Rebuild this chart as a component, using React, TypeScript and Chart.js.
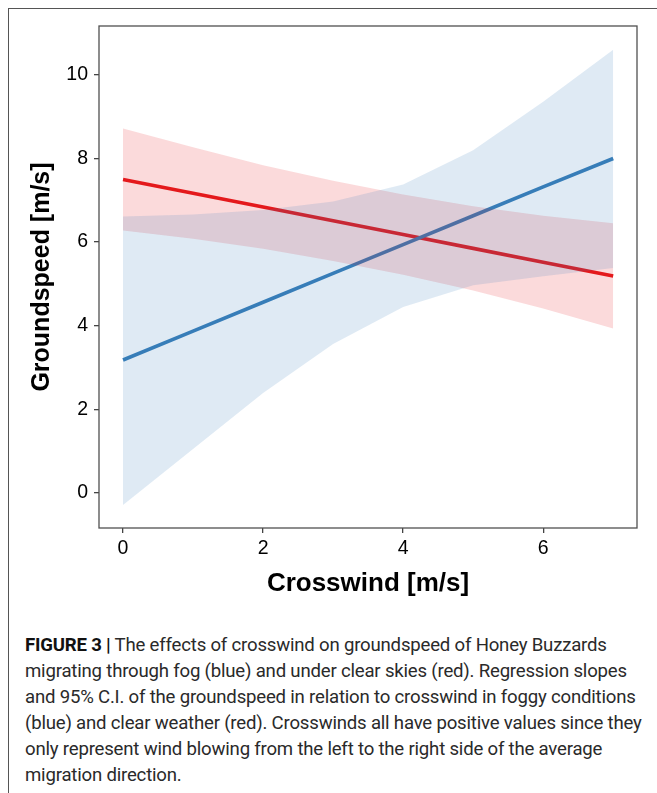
import React, { useEffect, useRef } from "react";
import { Chart, registerables } from "chart.js";

Chart.register(...registerables);

// Crosswind [m/s]
const xValues = [0, 1, 2, 3, 4, 5, 6, 7];
// Fog (blue): regression fit and 95% C.I.
const fogFit = [3.18, 3.87, 4.56, 5.25, 5.94, 6.63, 7.32, 8.0];
const fogUpper = [6.61, 6.66, 6.77, 6.97, 7.38, 8.2, 9.36, 10.6];
const fogLower = [-0.29, 1.05, 2.39, 3.56, 4.45, 4.97, 5.18, 5.38];
// Clear skies (red): regression fit and 95% C.I.
const clearFit = [7.5, 7.17, 6.84, 6.51, 6.18, 5.85, 5.52, 5.19];
const clearUpper = [8.72, 8.27, 7.84, 7.47, 7.14, 6.86, 6.63, 6.45];
const clearLower = [6.28, 6.08, 5.84, 5.55, 5.22, 4.84, 4.41, 3.93];

const xTicks = [0, 2, 4, 6];
const yTicks = [0, 2, 4, 6, 8, 10];

const xTitle = "Crosswind [m/s]";
const yTitle = "Groundspeed [m/s]";

const captionBold = "FIGURE 3 |";
const captionLines = [
  " The effects of crosswind on groundspeed of Honey Buzzards",
  "migrating through fog (blue) and under clear skies (red). Regression slopes",
  "and 95% C.I. of the groundspeed in relation to crosswind in foggy conditions",
  "(blue) and clear weather (red). Crosswinds all have positive values since they",
  "only represent wind blowing from the left to the right side of the average",
  "migration direction.",
];

const pts = (ys: number[]) => xValues.map((x, i) => ({ x, y: ys[i] }));

const FONT = "'Liberation Sans', Arial, Helvetica, sans-serif";

const panelBorder = {
  id: "panelBorder",
  afterDatasetsDraw(chart: any) {
    const { ctx, chartArea } = chart;
    ctx.save();
    ctx.strokeStyle = "#505050";
    ctx.lineWidth = 1.3;
    ctx.strokeRect(chartArea.left, chartArea.top, chartArea.right - chartArea.left, chartArea.bottom - chartArea.top);
    ctx.restore();
  },
};

export default function App() {
  const ref = useRef<HTMLCanvasElement | null>(null);

  useEffect(() => {
    if (!ref.current) return;
    const band = { pointRadius: 0, borderWidth: 0, tension: 0 };
    const chart = new Chart(ref.current, {
      type: "line",
      data: {
        datasets: [
          { ...band, data: pts(clearLower), fill: false, order: 1 },
          { ...band, data: pts(clearUpper), fill: "-1", backgroundColor: "rgba(228,26,28,0.16)", order: 1 },
          { ...band, data: pts(fogLower), fill: false, order: 0 },
          { ...band, data: pts(fogUpper), fill: "-1", backgroundColor: "rgba(55,126,184,0.16)", order: 0 },
          { data: pts(clearFit), borderColor: "#E41A1C", borderWidth: 3.6, pointRadius: 0, fill: false, order: 3 },
          { data: pts(fogFit), borderColor: "#377EB8", borderWidth: 3.6, pointRadius: 0, fill: false, order: 2 },
        ] as any,
      },
      options: {
        animation: false,
        responsive: false,
        devicePixelRatio: 1,
        layout: { padding: { left: 27, top: 26, right: 20, bottom: 1 } },
        plugins: { legend: { display: false }, tooltip: { enabled: false } },
        scales: {
          x: {
            type: "linear",
            min: -0.343,
            max: 7.34,
            afterBuildTicks: (s: any) => { s.ticks = xTicks.map((v) => ({ value: v })); },
            afterFit: (s: any) => { s.height = 71; },
            border: { display: false },
            grid: { drawOnChartArea: false, drawTicks: true, tickLength: 5, color: "#444", lineWidth: 1.3 },
            ticks: { padding: 4, color: "#000", font: { family: FONT, size: 19.5 }, maxRotation: 0 },
            title: { display: true, text: xTitle, color: "#000", padding: 0, font: { family: FONT, size: 26, weight: "bold" } },
          },
          y: {
            type: "linear",
            min: -0.84,
            max: 11.17,
            afterBuildTicks: (s: any) => { s.ticks = yTicks.map((v) => ({ value: v })); },
            afterFit: (s: any) => { s.width = 72; },
            border: { display: false },
            grid: { drawOnChartArea: false, drawTicks: true, tickLength: 5, color: "#444", lineWidth: 1.3 },
            ticks: { padding: 6, color: "#000", font: { family: FONT, size: 19.5 } },
            title: { display: true, text: yTitle, color: "#000", padding: 0, font: { family: FONT, size: 25, weight: "bold" } },
          },
        },
      } as any,
      plugins: [panelBorder],
    });
    return () => chart.destroy();
  }, []);

  return (
    <div style={{ position: "absolute", left: 0, top: 0, width: 657, height: 793, overflow: "hidden", background: "#fff" }}>
      <div style={{ position: "absolute", left: 8, top: 8, width: 700, height: 800, borderLeft: "1px solid #555", borderTop: "1px solid #555" }} />
      <canvas ref={ref} width={657} height={600} style={{ position: "absolute", left: 0, top: 0, width: 657, height: 600 }} />
      <div style={{ position: "absolute", left: 25, top: 632, fontFamily: "Roboto, 'Liberation Sans', sans-serif", fontSize: 18.6, lineHeight: "26px", color: "#2a2a2a", whiteSpace: "nowrap", letterSpacing: "-0.2px" }}>
        {captionLines.map((line, i) => (
          <div key={i}>
            {i === 0 ? <b style={{ color: "#111" }}>{captionBold}</b> : null}
            {line}
          </div>
        ))}
      </div>
    </div>
  );
}
